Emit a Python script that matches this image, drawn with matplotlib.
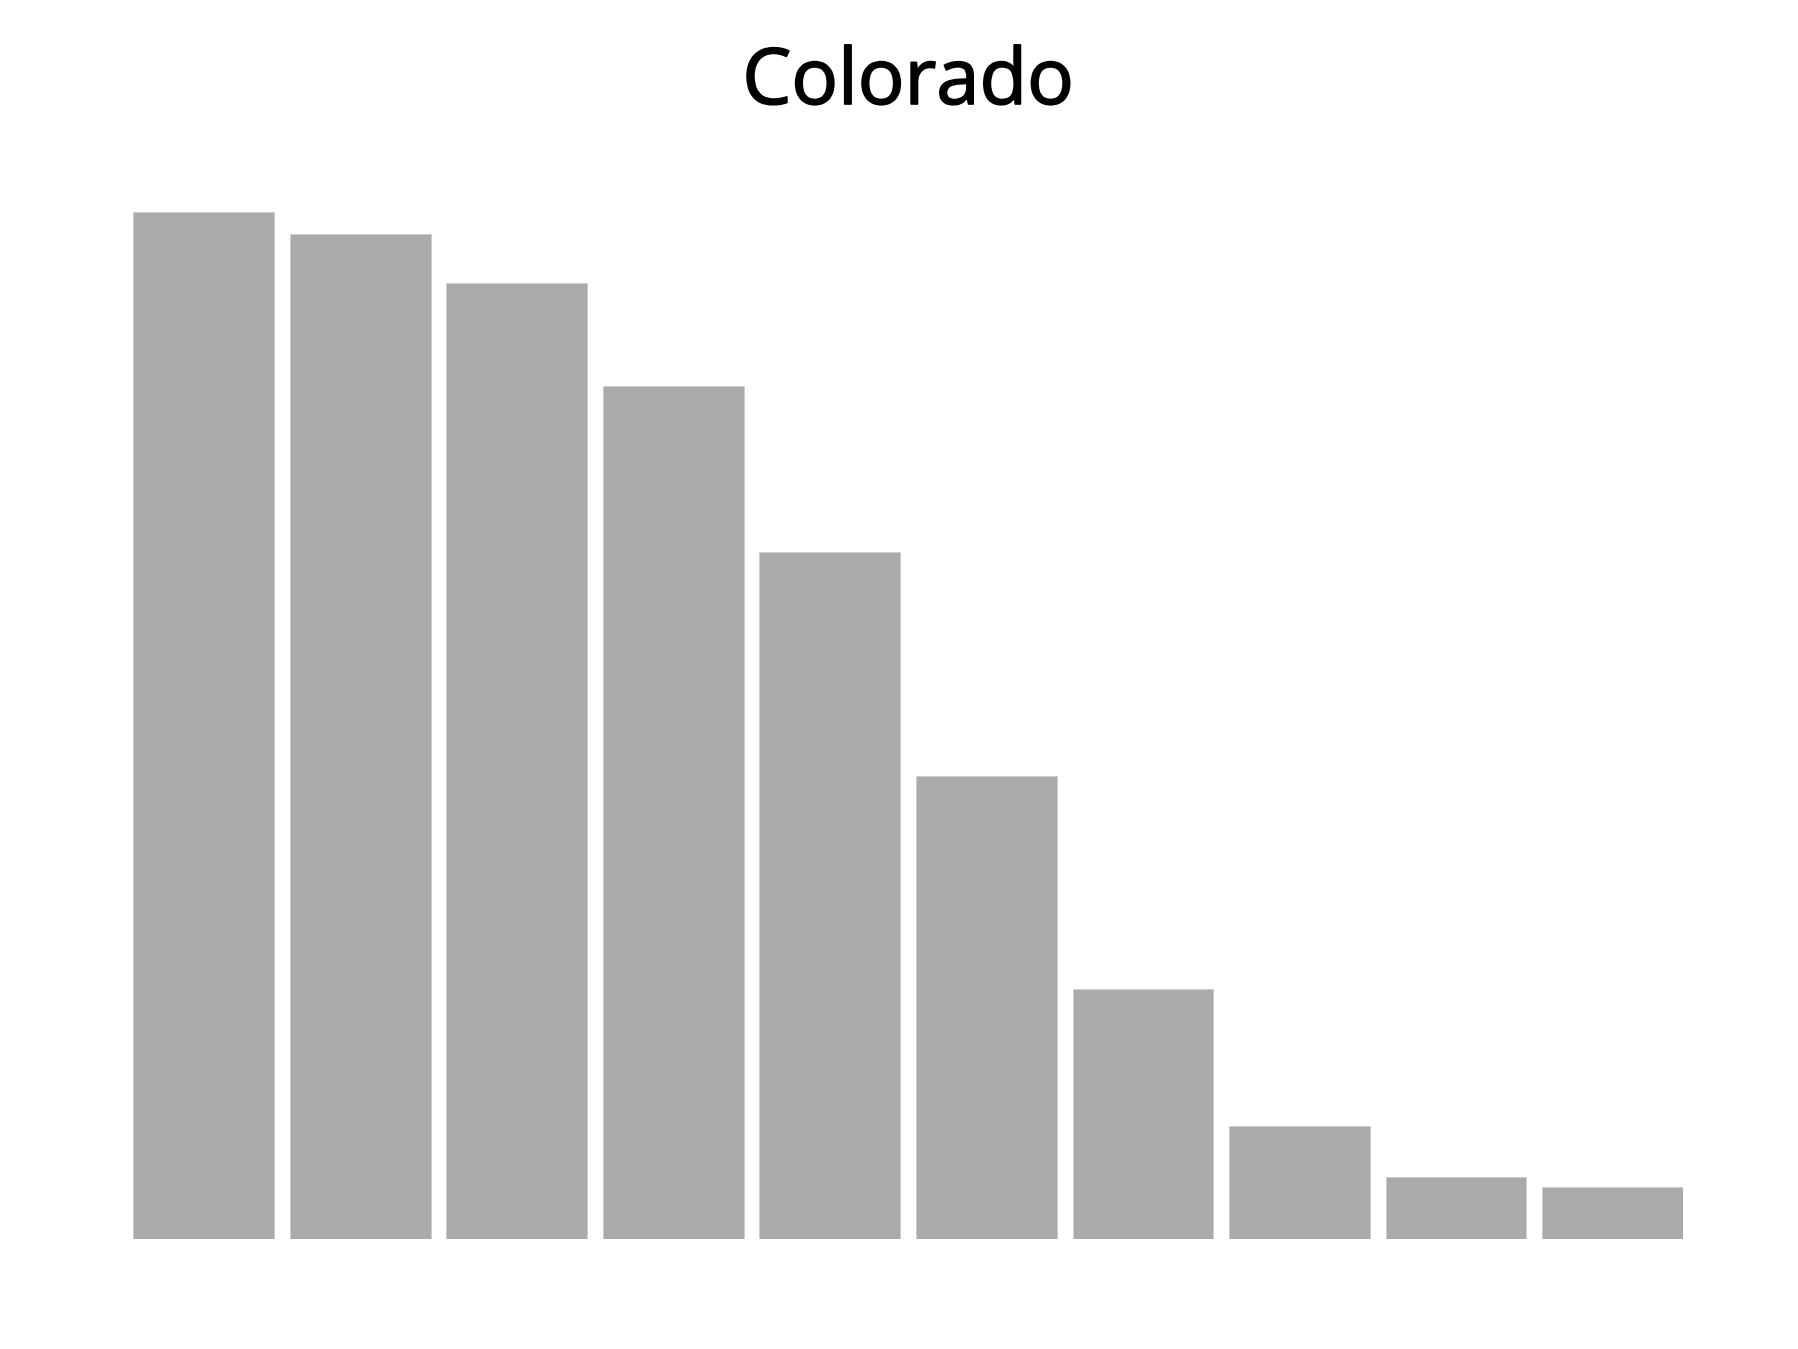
import numpy as np
import matplotlib
matplotlib.use("Agg")
import matplotlib.pyplot as plt
import matplotlib.patheffects as pe

categories = ["1", "2", "3", "4", "5", "6", "7", "8", "9", "10"]
values = [100.0, 97.9, 93.1, 83.1, 66.9, 45.15, 24.4, 11.0, 6.06, 5.06]

fig = plt.figure(figsize=(17.99, 13.49), dpi=100)
ax = fig.add_axes([133.3 / 1799, 1 - 1239.3 / 1349, (1683 - 133.3) / 1799, (1239.3 - 212.3) / 1349])

x = np.arange(len(categories))
ax.bar(x, values, width=0.9, color="#aaaaaa", edgecolor="#cccccc", linewidth=0.6)
ax.set_xlim(-0.45, len(categories) - 0.55)
ax.set_ylim(0, max(values))
ax.axis("off")

title = fig.text(908 / 1799, 1 - 104 / 1349, "Colorado", ha="center", va="baseline",
                 fontsize=56, family="Open Sans", color="black")
# slightly heavier strokes, the original face looks bolder than Open Sans regular
title.set_path_effects([pe.Stroke(linewidth=1.2, foreground="black"), pe.Normal()])

fig.savefig("out.png", dpi=100, facecolor="white")
